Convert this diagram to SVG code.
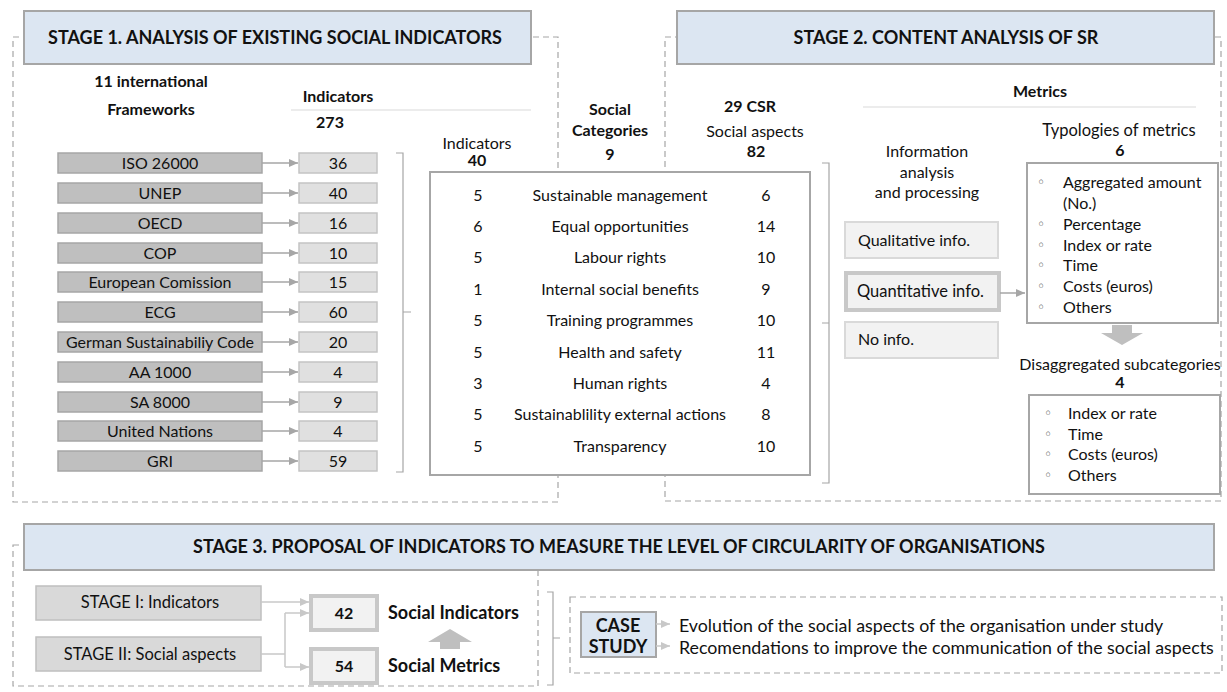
<svg xmlns="http://www.w3.org/2000/svg" width="1227" height="692" viewBox="0 0 1227 692">
  <style>
    text { font-family: Lato, "Liberation Sans", "DejaVu Sans", sans-serif; fill: #111; }
    .t { font-size: 16px; }
    .t2 { font-size: 16.5px; }
    .tl { font-size: 17.8px; }
    .b { font-size: 16px; font-weight: bold; }
    .h { font-size: 18px; font-weight: bold; }
    .c { text-anchor: middle; }
    .dot { font-size: 14px; fill: #444; font-family: "DejaVu Sans", sans-serif; }
    .frame { fill: none; stroke: #a6a6a6; stroke-width: 1.2; stroke-dasharray: 6 4; }
    .hdr { fill: #dce6f2; stroke: #a6a6a6; stroke-width: 2; }
    .fw { fill: #bfbfbf; stroke: #a6a6a6; stroke-width: 1.5; }
    .num { fill: #e0e0e0; stroke: #c4c4c4; stroke-width: 1.5; }
    .panel { fill: #fff; stroke: #a6a6a6; stroke-width: 2; }
    .info { fill: #f2f2f2; stroke: #d9d9d9; stroke-width: 2; }
    .thick { fill: #f2f2f2; stroke: #c8c8c8; stroke-width: 4; }
    .stagebox { fill: #d9d9d9; stroke: #bfbfbf; stroke-width: 1.5; }
    .br { fill: none; stroke: #a6a6a6; stroke-width: 1.2; }
    .rule { stroke: #d9d9d9; stroke-width: 1.2; }
    .con { fill: none; stroke: #a6a6a6; stroke-width: 1.5; marker-end: url(#ah); }
    .con2 { fill: none; stroke: #c8c8c8; stroke-width: 1.5; }
    .con2a { fill: none; stroke: #c8c8c8; stroke-width: 1.5; marker-end: url(#ah2); }
    .block { fill: #bfbfbf; }
  </style>
  <defs>
    <marker id="ah" markerUnits="userSpaceOnUse" markerWidth="10" markerHeight="10" refX="9" refY="5" orient="auto">
      <path d="M0,1 L9,5 L0,9 Z" fill="#a6a6a6"/>
    </marker>
    <marker id="ah2" markerUnits="userSpaceOnUse" markerWidth="10" markerHeight="10" refX="9" refY="5" orient="auto">
      <path d="M0,1 L9,5 L0,9 Z" fill="#c8c8c8"/>
    </marker>
  </defs>

  <!-- stage frames (dashed) -->
  <g id="frames">
    <rect class="frame" x="13" y="37" width="545" height="465"/>
    <rect class="frame" x="665" y="37" width="556" height="464"/>
    <rect class="frame" x="13" y="545" width="525" height="141"/>
    <rect class="frame" x="570" y="597" width="652" height="76"/>
  </g>

  <!-- Stage 1 -->
  <g id="stage1-header">
    <rect class="hdr" x="24" y="11" width="507" height="53"/>
    <text class="h c" x="275" y="44">STAGE 1. ANALYSIS OF EXISTING SOCIAL INDICATORS</text>
  </g>
  <g id="stage1-labels">
    <text class="b c" x="151" y="87">11 international</text>
    <text class="b c" x="151" y="115">Frameworks</text>
    <text class="b c" x="338" y="102">Indicators</text>
    <line class="rule" x1="291" y1="110" x2="531" y2="110"/>
    <text class="b c" x="330" y="128">273</text>
    <text class="t c" x="477" y="149">Indicators</text>
    <text class="b c" x="477" y="166">40</text>
    <text class="b c" x="610" y="115">Social</text>
    <text class="b c" x="610" y="136">Categories</text>
    <text class="b c" x="610" y="160">9</text>
  </g>

  <g id="frameworks">
    <g id="fw-iso"><rect class="fw" x="58" y="153" width="204" height="20"/><text class="t c" x="160" y="169">ISO 26000</text></g>
    <g id="fw-unep"><rect class="fw" x="58" y="183" width="204" height="20"/><text class="t c" x="160" y="199">UNEP</text></g>
    <g id="fw-oecd"><rect class="fw" x="58" y="213" width="204" height="20"/><text class="t c" x="160" y="229">OECD</text></g>
    <g id="fw-cop"><rect class="fw" x="58" y="243" width="204" height="20"/><text class="t c" x="160" y="259">COP</text></g>
    <g id="fw-ec"><rect class="fw" x="58" y="272" width="204" height="20"/><text class="t c" x="160" y="288">European Comission</text></g>
    <g id="fw-ecg"><rect class="fw" x="58" y="302" width="204" height="20"/><text class="t c" x="160" y="318">ECG</text></g>
    <g id="fw-gsc"><rect class="fw" x="58" y="332" width="204" height="20"/><text class="t c" x="160" y="348">German Sustainabiliy Code</text></g>
    <g id="fw-aa"><rect class="fw" x="58" y="362" width="204" height="20"/><text class="t c" x="160" y="378">AA 1000</text></g>
    <g id="fw-sa"><rect class="fw" x="58" y="392" width="204" height="20"/><text class="t c" x="160" y="408">SA 8000</text></g>
    <g id="fw-un"><rect class="fw" x="58" y="421" width="204" height="20"/><text class="t c" x="160" y="437">United Nations</text></g>
    <g id="fw-gri"><rect class="fw" x="58" y="451" width="204" height="20"/><text class="t c" x="160" y="467">GRI</text></g>
  </g>

  <g id="indicator-counts">
    <g id="n-iso"><rect class="num" x="299" y="153" width="78" height="20"/><text class="t c" x="338" y="169">36</text></g>
    <g id="n-unep"><rect class="num" x="299" y="183" width="78" height="20"/><text class="t c" x="338" y="199">40</text></g>
    <g id="n-oecd"><rect class="num" x="299" y="213" width="78" height="20"/><text class="t c" x="338" y="229">16</text></g>
    <g id="n-cop"><rect class="num" x="299" y="243" width="78" height="20"/><text class="t c" x="338" y="259">10</text></g>
    <g id="n-ec"><rect class="num" x="299" y="272" width="78" height="20"/><text class="t c" x="338" y="288">15</text></g>
    <g id="n-ecg"><rect class="num" x="299" y="302" width="78" height="20"/><text class="t c" x="338" y="318">60</text></g>
    <g id="n-gsc"><rect class="num" x="299" y="332" width="78" height="20"/><text class="t c" x="338" y="348">20</text></g>
    <g id="n-aa"><rect class="num" x="299" y="362" width="78" height="20"/><text class="t c" x="338" y="378">4</text></g>
    <g id="n-sa"><rect class="num" x="299" y="392" width="78" height="20"/><text class="t c" x="338" y="408">9</text></g>
    <g id="n-un"><rect class="num" x="299" y="421" width="78" height="20"/><text class="t c" x="338" y="437">4</text></g>
    <g id="n-gri"><rect class="num" x="299" y="451" width="78" height="20"/><text class="t c" x="338" y="467">59</text></g>
  </g>

  <!-- social categories table -->
  <g id="categories">
    <rect class="panel" x="430" y="172" width="380" height="303"/>
    <text class="t c" x="478" y="201">5</text><text class="t c" x="620" y="201">Sustainable management</text><text class="t c" x="766" y="201">6</text>
    <text class="t c" x="478" y="232">6</text><text class="t c" x="620" y="232">Equal opportunities</text><text class="t c" x="766" y="232">14</text>
    <text class="t c" x="478" y="263">5</text><text class="t c" x="620" y="263">Labour rights</text><text class="t c" x="766" y="263">10</text>
    <text class="t c" x="478" y="295">1</text><text class="t c" x="620" y="295">Internal social benefits</text><text class="t c" x="766" y="295">9</text>
    <text class="t c" x="478" y="326">5</text><text class="t c" x="620" y="326">Training programmes</text><text class="t c" x="766" y="326">10</text>
    <text class="t c" x="478" y="358">5</text><text class="t c" x="620" y="358">Health and safety</text><text class="t c" x="766" y="358">11</text>
    <text class="t c" x="478" y="389">3</text><text class="t c" x="620" y="389">Human rights</text><text class="t c" x="766" y="389">4</text>
    <text class="t c" x="478" y="420">5</text><text class="t c" x="620" y="420">Sustainablility external actions</text><text class="t c" x="766" y="420">8</text>
    <text class="t c" x="478" y="452">5</text><text class="t c" x="620" y="452">Transparency</text><text class="t c" x="766" y="452">10</text>
  </g>

  <!-- Stage 2 -->
  <g id="stage2-header">
    <rect class="hdr" x="677" y="11" width="537" height="53"/>
    <text class="h c" x="946" y="44">STAGE 2. CONTENT ANALYSIS OF SR</text>
  </g>
  <g id="stage2-labels">
    <text class="b c" x="750" y="112">29 CSR</text>
    <text class="t c" x="755" y="137">Social aspects</text>
    <text class="b c" x="756" y="157">82</text>
    <text class="b c" x="1040" y="97">Metrics</text>
    <line class="rule" x1="863" y1="107" x2="1196" y2="107"/>
    <text class="t2 c" x="1119" y="136">Typologies of metrics</text>
    <text class="b c" x="1120" y="156">6</text>
    <text class="t c" x="927" y="157">Information</text>
    <text class="t c" x="927" y="178">analysis</text>
    <text class="t c" x="927" y="198">and processing</text>
  </g>

  <g id="info-qualitative"><rect class="info" x="845" y="222" width="153" height="36"/><text class="t" x="858" y="246">Qualitative info.</text></g>
  <g id="info-quantitative"><rect class="thick" x="846" y="273" width="153" height="37"/><text class="t2" x="857" y="297">Quantitative info.</text></g>
  <g id="info-none"><rect class="info" x="845" y="322" width="153" height="36"/><text class="t" x="858" y="345">No info.</text></g>

  <g id="typologies">
    <rect class="panel" x="1027" y="163" width="191" height="160"/>
    <text class="dot" x="1037" y="187">◦</text><text class="t" x="1063" y="188">Aggregated amount</text>
    <text class="t" x="1063" y="209">(No.)</text>
    <text class="dot" x="1037" y="229">◦</text><text class="t" x="1063" y="230">Percentage</text>
    <text class="dot" x="1037" y="250">◦</text><text class="t" x="1063" y="251">Index or rate</text>
    <text class="dot" x="1037" y="270">◦</text><text class="t" x="1063" y="271">Time</text>
    <text class="dot" x="1037" y="291">◦</text><text class="t" x="1063" y="292">Costs (euros)</text>
    <text class="dot" x="1037" y="312">◦</text><text class="t" x="1063" y="313">Others</text>
  </g>

  <g id="subcategories">
    <text class="t c" x="1120" y="370">Disaggregated subcategories</text>
    <text class="b c" x="1120" y="388">4</text>
    <rect class="panel" x="1029" y="395" width="191" height="99"/>
    <text class="dot" x="1044" y="418">◦</text><text class="t" x="1068" y="419">Index or rate</text>
    <text class="dot" x="1044" y="439">◦</text><text class="t" x="1068" y="440">Time</text>
    <text class="dot" x="1044" y="459">◦</text><text class="t" x="1068" y="460">Costs (euros)</text>
    <text class="dot" x="1044" y="480">◦</text><text class="t" x="1068" y="481">Others</text>
  </g>

  <!-- Stage 3 -->
  <g id="stage3-header">
    <rect class="hdr" x="24" y="524" width="1190" height="46"/>
    <text class="h c" x="619" y="553">STAGE 3. PROPOSAL OF INDICATORS TO MEASURE THE LEVEL OF CIRCULARITY OF ORGANISATIONS</text>
  </g>
  <g id="stage-i"><rect class="stagebox" x="36" y="586" width="225" height="34"/><text class="t2 c" x="150" y="608">STAGE I: Indicators</text></g>
  <g id="stage-ii"><rect class="stagebox" x="36" y="637" width="225" height="34"/><text class="t2 c" x="150" y="660">STAGE II: Social aspects</text></g>
  <g id="social-indicators"><rect class="thick" x="311" y="596" width="66" height="34"/><text class="b c" x="344" y="619">42</text><text class="h" x="388" y="619">Social Indicators</text></g>
  <g id="social-metrics"><rect class="thick" x="311" y="649" width="66" height="34"/><text class="b c" x="344" y="672">54</text><text class="h" x="388" y="672">Social Metrics</text></g>
  <g id="case-study">
    <rect class="hdr" x="581" y="612" width="75" height="45"/>
    <text class="h c" x="618" y="632">CASE</text>
    <text class="h c" x="618" y="653">STUDY</text>
    <text class="tl" x="679" y="632">Evolution of the social aspects of the organisation under study</text>
    <text class="tl" x="679" y="654">Recomendations to improve the communication of the social aspects</text>
  </g>

  <!-- connectors, brackets and block arrows -->
  <g id="connectors">
    <path class="con" d="M262,163 H298"/>
    <path class="con" d="M262,193 H298"/>
    <path class="con" d="M262,223 H298"/>
    <path class="con" d="M262,253 H298"/>
    <path class="con" d="M262,282 H298"/>
    <path class="con" d="M262,312 H298"/>
    <path class="con" d="M262,342 H298"/>
    <path class="con" d="M262,372 H298"/>
    <path class="con" d="M262,402 H298"/>
    <path class="con" d="M262,431 H298"/>
    <path class="con" d="M262,461 H298"/>
    <path class="br" d="M396,153 H403 V472 H396 M403,312 H411"/>
    <path class="br" d="M822,163 H829 V483 H822 M822,323 H829"/>
    <path class="con" d="M1000,293 H1025"/>
    <path class="block" d="M1112,325 H1132 V333 H1143 L1122,345 L1101,333 H1112 Z"/>
    <path class="con2a" d="M261,602 H309"/>
    <path class="con2" d="M261,654 H285 M285,613 V667"/>
    <path class="con2a" d="M285,613 H309"/>
    <path class="con2a" d="M285,667 H309"/>
    <path class="block" d="M440,649 V642 H428 L450,629 L472,642 H460 V649 Z"/>
    <path class="br" d="M547,592 H553 V685 H547 M553,638 H560"/>
    <path class="con2a" d="M656,624 H670"/>
    <path class="con2a" d="M656,646 H670"/>
  </g>
</svg>
